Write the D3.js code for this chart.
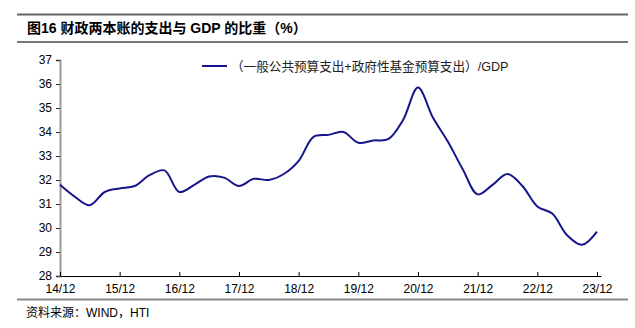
<!DOCTYPE html>
<html><head><meta charset="utf-8">
<script src="https://cdn.jsdelivr.net/npm/d3@7"></script>
<style>
body{margin:0;background:#fff;}
svg{display:block;font-family:"Liberation Sans","Noto Sans CJK SC",sans-serif;}
</style></head>
<body>
<svg id="chart" width="635" height="328"></svg>
<script>
const titleText = "图16 财政两本账的支出与 GDP 的比重（%）";
const seriesName = "（一般公共预算支出+政府性基金预算支出）/GDP";
const sourceText = "资料来源：WIND，HTI";
const xTickLabels = ["14/12","15/12","16/12","17/12","18/12","19/12","20/12","21/12","22/12","23/12"];
const yTicks = [28,29,30,31,32,33,34,35,36,37];
// quarterly values, 2014Q4 .. 2023Q4
const values = [31.8,31.3,30.95,31.5,31.65,31.75,32.2,32.4,31.5,31.8,32.15,32.1,31.75,32.05,32.0,32.25,32.8,33.8,33.88,34.0,33.55,33.65,33.7,34.5,35.85,34.6,33.6,32.45,31.4,31.8,32.25,31.75,30.9,30.6,29.7,29.3,29.85];

const svg = d3.select("#chart");
const x = d3.scaleLinear().domain([0, 36.27]).range([60, 601]);
const y = d3.scaleLinear().domain([28, 37]).range([276, 60]);

// rules
svg.append("line").attr("x1",17).attr("x2",628).attr("y1",14.5).attr("y2",14.5).attr("stroke","#666").attr("stroke-width",2);
svg.append("line").attr("x1",17).attr("x2",628).attr("y1",42).attr("y2",42).attr("stroke","#777").attr("stroke-width",2);
svg.append("line").attr("x1",17).attr("x2",628).attr("y1",299.5).attr("y2",299.5).attr("stroke","#888").attr("stroke-width",2);

svg.append("text").attr("x",27).attr("y",33).attr("font-size",14).attr("font-weight","bold").attr("fill","#000").text(titleText);
svg.append("text").attr("x",26).attr("y",316.5).attr("font-size",12).attr("fill","#000").text(sourceText);

// y axis
const yAxis = d3.axisLeft(y).tickValues(yTicks).tickSize(4).tickPadding(4).tickFormat(d3.format("d"));
const gy = svg.append("g").attr("transform","translate(60,0)").call(yAxis);
gy.select(".domain").attr("stroke","#999").attr("stroke-width",2);
gy.selectAll(".tick line").attr("stroke","#333");
gy.selectAll(".tick text").attr("font-size",12).attr("fill","#000").attr("font-family","Liberation Sans, sans-serif");

// x axis
const xAxis = d3.axisBottom(x).tickValues(xTickLabels.map((d,i)=>i*4)).tickSizeInner(-4).tickSizeOuter(0).tickPadding(8)
  .tickFormat((d,i)=>xTickLabels[i]);
const gx = svg.append("g").attr("transform","translate(0,276)").call(xAxis);
gx.select(".domain").attr("stroke","#000");
gx.selectAll(".tick line").attr("stroke","#000");
gx.selectAll(".tick text").attr("font-size",12).attr("fill","#000").attr("font-family","Liberation Sans, sans-serif");

// line
const line = d3.line().x((d,i)=>x(i)).y(d=>y(d)).curve(d3.curveCatmullRom.alpha(0.5));
svg.append("path").datum(values).attr("d",line).attr("fill","none").attr("stroke","#16168c").attr("stroke-width",2);

// legend
svg.append("line").attr("x1",202).attr("x2",227).attr("y1",66).attr("y2",66).attr("stroke","#16168c").attr("stroke-width",2);
svg.append("text").attr("x",231).attr("y",70.5).attr("font-size",12.6).attr("fill","#222").text(seriesName);
</script>
</body></html>
